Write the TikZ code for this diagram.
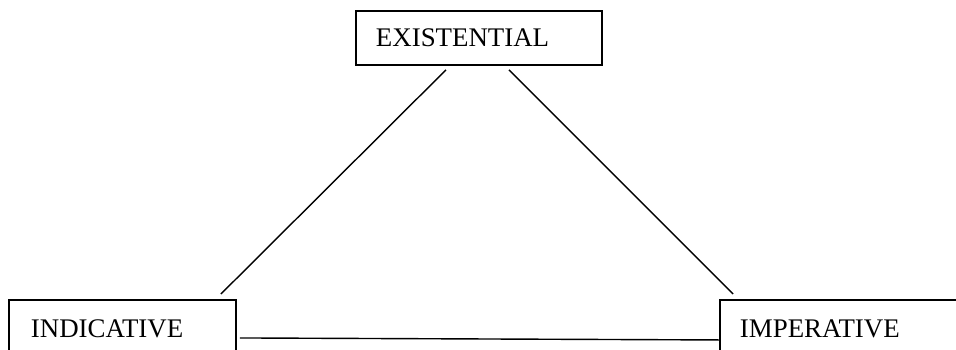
\documentclass[tikz,border=0pt]{standalone}
\usepackage{fontspec}
\setmainfont{Liberation Serif}
\usepackage{tikz}

\begin{document}
\begin{tikzpicture}[x=0.02cm, y=-0.02cm, font=\fontsize{15.3}{18}\selectfont,
box/.style={draw,line width=1.1pt,align=left,minimum height=1.14cm,inner ysep=0pt,anchor=north west},
link/.style={line width=0.8pt}]
\useasboundingbox (0,0) rectangle (956,350);
\node[box,text width=4.12cm,inner xsep=0.4cm,minimum height=1.08cm] (ex) at (355,10) {EXISTENTIAL};
\node[box,text width=3.66cm,inner xsep=0.44cm] (ind) at (8,299) {INDICATIVE};
\node[box,text width=4.14cm,inner xsep=0.4cm] (imp) at (719,299) {IMPERATIVE};
\draw[link] ([shift={(-33,4)}]ex.south)--([shift={(98.5,-5)}]ind.north);
\draw[link] ([shift={(30,4)}]ex.south)--([shift={(14,-5)}]imp.north west);
\draw[link] ([shift={(3,9.5)}]ind.east)--([shift={(0,11.5)}]imp.west);
\end{tikzpicture}
\end{document}
